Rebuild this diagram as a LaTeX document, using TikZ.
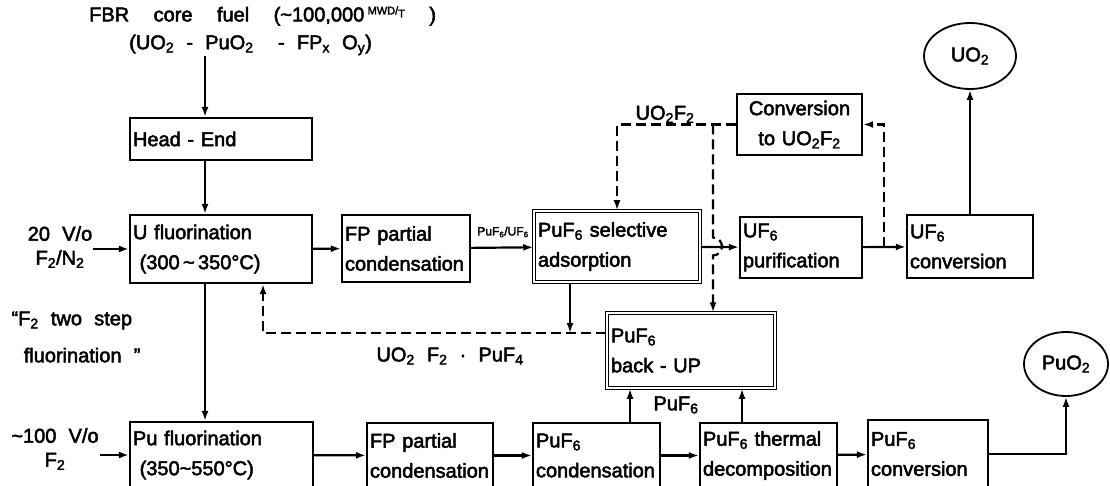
\documentclass[tikz,border=0pt]{standalone}
\usepackage{fontspec}
\setmainfont{Liberation Sans}[WordSpace=2.2, FakeBold=2.5]
\usepackage{tikz}
\usetikzlibrary{arrows.meta, positioning, shapes.geometric}
\newcommand{\blkfont}{\fontsize{20}{30}\selectfont}
\newcommand{\lblfont}{\fontsize{20}{24}\selectfont}
\newcommand{\lo}[1]{\textsubscript{#1}}
\tikzset{
    blk/.style={rectangle, draw, line width=2.2pt, inner sep=3pt, align=left, font=\blkfont},
    dblk/.style={blk, double, double distance=1.8pt, line width=1.5pt},
    prod/.style={ellipse, draw, line width=1.8pt, font=\blkfont, inner sep=0pt},
    lbl/.style={font=\lblfont, inner sep=1pt},
    arr/.style={-{Latex[length=10pt, width=7pt]}, line width=2.2pt},
    dsh/.style={dash pattern=on 10pt off 5pt, line width=2.4pt},
}

\begin{document}
\begin{tikzpicture}[x=1pt, y=-1pt]
\useasboundingbox (0,0) rectangle (1110,486);

% =========================================================
% FEED
% =========================================================

        \node[lbl, anchor=west] (fuel) at (88,16) {FBR \ core \ fuel \ (\textasciitilde100,000\,\raisebox{7pt}{\fontsize{11}{11}\selectfont MWD/\raisebox{-3pt}{T}} \ )};
        \node[lbl, anchor=west] (comp) at (128,45) {(UO\lo2 - PuO\lo2 \ - FP\lo x O\lo y)};

        \node[lbl, align=center] (f2n2) at (60,247) {20 V/o\\F\lo2/N\lo2};
        \node[lbl, align=center] (f2pu) at (55,449) {\textasciitilde100 V/o\\F\lo2};
        \node[lbl, align=left, font=\fontsize{20}{37}\selectfont] (twostep) at (76,337) {“F\lo2 two step\\ \ fluorination ”};

% =========================================================
% U LINE (upper row)
% =========================================================

        \node[blk, minimum width=182pt, text width=176pt, minimum height=42pt] (hed) at (221,139) {Head - End};
        \node[blk, minimum width=182pt, text width=176pt, minimum height=68pt] (ufl) at (221,249) {U fluorination\\ \ (300\,\textasciitilde\,350°C)};
        \node[blk, minimum width=128pt, text width=122pt, minimum height=67pt] (fpc) at (406,248.5) {FP partial\\condensation};
        \node[dblk, minimum width=166pt, text width=158pt, minimum height=71pt] (sel) at (617,246.5) {PuF\lo6 selective\\ adsorption};
        \node[blk, minimum width=122pt, text width=116pt, minimum height=61pt] (pur) at (801,247.5) {UF\lo6\\purification};
        \node[blk, minimum width=126pt, text width=120pt, minimum height=63pt] (ucv) at (970,246.5) {UF\lo6\\conversion};
        \node[blk, minimum width=125pt, text width=119pt, minimum height=61pt, align=center] (cnv) at (799.5,124.5) {Conversion\\to UO\lo2F\lo2};
        \node[prod, minimum width=92pt, minimum height=66pt] (uo2) at (970,56) {UO\lo2};

        \node[dblk, minimum width=168pt, text width=160pt, minimum height=75pt] (bku) at (691,350.5) {PuF\lo6\\back - UP};

% =========================================================
% Pu LINE (lower row)
% =========================================================

        \node[blk, minimum width=183pt, text width=177pt, minimum height=66pt] (pfl) at (221.5,455) {Pu fluorination\\ \ (350\textasciitilde550°C)};
        \node[blk, minimum width=126pt, text width=120pt, minimum height=65pt] (fpb) at (430,455.5) {FP partial\\condensation};
        \node[blk, minimum width=127pt, text width=121pt, minimum height=65pt] (pcd) at (596.5,455.5) {PuF\lo6\\condensation};
        \node[blk, minimum width=137pt, text width=131pt, minimum height=65pt] (ptd) at (768.5,455.5) {PuF\lo6 thermal\\decomposition};
        \node[blk, minimum width=120pt, text width=114pt, minimum height=68pt] (pcv) at (928,454) {PuF\lo6\\conversion};
        \node[prod, minimum width=84pt, minimum height=64pt] (puo2) at (1066,364) {PuO\lo2};

% stream labels
        \node[lbl, anchor=south] (lbuf) at (665,124) {UO\lo2F\lo2};
        \node[lbl, font=\fontsize{12}{12}\selectfont] (lbpu) at (503,232) {PuF\lo6/UF\lo6};
        \node[lbl] (lbmix) at (450,356) {UO\lo2 F\lo2 · PuF\lo4};
        \node[lbl] (lbpuf) at (676,405) {PuF\lo6};

% =========================================================
% CONNECTORS
% =========================================================

        \coordinate (c1) at (205,0);
        \coordinate (c2) at (884,0);
        \coordinate (c3) at (713,0);
        \coordinate (c4) at (570,333);
        \coordinate (c5) at (263,333);
        \coordinate (c6) at (630,0);
        \coordinate (c7) at (742,0);

        \draw[arr] (c1 |- comp.south) -- (c1 |- hed.north);
        \draw[arr] (c1 |- hed.south) -- (c1 |- ufl.north);
        \draw[arr] (c1 |- ufl.south) -- (c1 |- pfl.north);
        \draw[arr] (f2n2.east |- ufl.west) -- (ufl.west);
        \draw[arr] (f2pu.east |- pfl.west) -- (pfl.west);

        \draw[arr] (ufl) -- (fpc);
        \draw[arr] (fpc) -- (sel);
        \draw[arr] (sel) -- (pur);
        \draw[arr] (pur) -- (ucv);
        \draw[arr] (ucv) -- (uo2);

        \draw[arr] (pfl) -- (fpb);
        \draw[arr] (fpb) -- (pcd);
        \draw[arr] (pcd) -- (ptd);
        \draw[arr] (ptd) -- (pcv);
        \draw[arr] (pcv.east) -| (puo2.south);

        \draw[arr] (c6 |- pcd.north) -- (c6 |- bku.south);
        \draw[arr] (c7 |- ptd.north) -- (c7 |- bku.south);

% UO2F2 recycle (dashed)
        \draw[dsh, arr] (c2 |- pur.east) |- (cnv.east);
        \draw[dsh, arr] (cnv.west) -| (sel.north);
        \coordinate (hop) at (c3 |- sel.east);
        \draw[dsh, arr] (c3 |- cnv.west) -- ([yshift=9pt]hop) arc[start angle=90, end angle=-90, radius=9pt] -- (c3 |- bku.north);

% UO2F2.PuF4 back to U fluorination
        \draw[arr] (c4 |- sel.south) -- (c4);
        \draw[dsh, arr] (bku.west |- c4) -- (c5) -- (c5 |- ufl.south);

\end{tikzpicture}
\end{document}
